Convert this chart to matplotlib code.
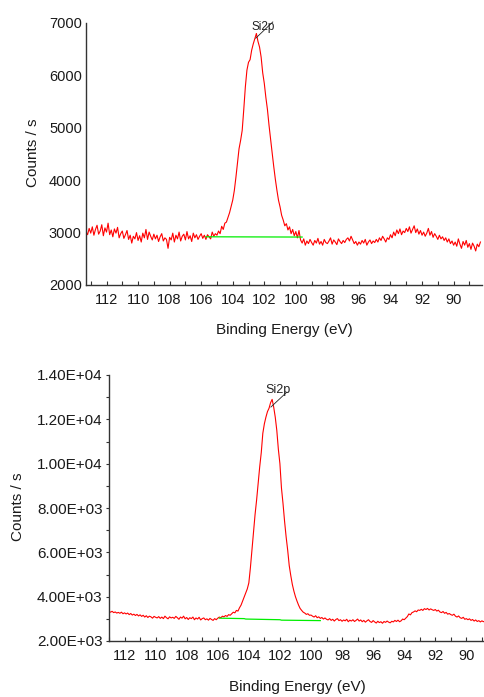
import numpy as np
import matplotlib
matplotlib.use("Agg")
import matplotlib.pyplot as plt
from matplotlib.ticker import MultipleLocator, FuncFormatter

plt.rcParams['font.family'] = ['Liberation Sans', 'DejaVu Sans']

# ---------------- data ----------------
# Top spectrum: binding energy grid 113.3 -> 88.3 eV, step 0.1 eV
top_be_start, top_be_step = 113.3, 0.1
top_counts = [
    3020, 2960, 3080, 2990,
    3110, 2950, 3060, 3140, 2970, 3030, 3150, 2940, 3090, 3010,
    3180, 2960, 3050, 2920, 3070, 2990, 3100, 2900, 2980, 3030,
    2890, 2960, 3040, 2870, 2950, 2800, 2930, 2880, 3000, 2850,
    2940, 2820, 2990, 2900, 3060, 2870, 3010, 2930, 2860, 2970,
    2880, 2950, 2830, 2920, 2980, 2840, 2900, 2870, 2700, 2910,
    2860, 2990, 2820, 2950, 2880, 3010, 2840, 2930, 2970, 2860,
    3020, 2880, 2940, 2830, 2990, 2900, 2960, 2870, 2930, 2980,
    2890, 2950, 2870, 2960, 2920, 2880, 3010, 2930, 2980, 2950,
    3030, 2980, 3120, 3060, 3180, 3200, 3290, 3380, 3500, 3620,
    3800, 4050, 4330, 4600, 4760, 4950, 5350, 5780, 6100, 6250,
    6300, 6480, 6600, 6700, 6800, 6650, 6540, 6350, 6050, 5850,
    5580, 5350, 5050, 4780, 4520, 4260, 4020, 3810, 3620, 3490,
    3330, 3240, 3130, 3170, 3050, 3110, 2980, 3060, 2940, 3020,
    2900, 3040, 2860, 2800, 2880, 2760, 2840, 2790, 2870, 2810,
    2760, 2850, 2800, 2890, 2780, 2830, 2760, 2870, 2810, 2790,
    2840, 2900, 2780, 2860, 2820, 2770, 2880, 2830, 2790, 2850,
    2810, 2870, 2900, 2840, 2930, 2860, 2790, 2830, 2760, 2820,
    2780, 2850, 2800, 2870, 2760, 2820, 2860, 2790, 2840, 2810,
    2870, 2820, 2900, 2850, 2930, 2880, 2820, 2900, 2870, 2960,
    2900, 3010, 2940, 3050, 2980, 3070, 2960, 3030, 3000, 3080,
    3020, 3110, 2990, 3060, 3130, 3000, 3070, 2970, 3040, 2950,
    3010, 2930, 2990, 3080, 2950, 3020, 2910, 2980, 2930, 2870,
    2950, 2880, 2920, 2850, 2900, 2820, 2880, 2790, 2840, 2760,
    2820, 2740, 2880, 2780, 2700, 2830, 2760, 2850, 2720, 2790,
    2680, 2800, 2740, 2650, 2780, 2730, 2820,
]
top_bg_x = [105.7, 99.6]
top_bg_y = [2920, 2915]
top_peak = (102.54, 6710)
top_label_end = (101.46, 7020)
top_label_pos = (102.05, 6920)

# Bottom spectrum: binding energy grid 113.0 -> 88.8 eV, step 0.1 eV
bot_be_start, bot_be_step = 113.0, 0.1
bot_counts = [
    3330,
    3300, 3340, 3280, 3310, 3260, 3290, 3250, 3300, 3230, 3270,
    3220, 3260, 3190, 3240, 3170, 3210, 3150, 3200, 3130, 3180,
    3110, 3160, 3080, 3140, 3060, 3120, 3090, 3030, 3110, 3070,
    3040, 3100, 3020, 3080, 3010, 3120, 3050, 3000, 3090, 3040,
    3070, 3020, 3110, 3050, 2980, 3080, 3030, 3120, 3000, 3060,
    2970, 3050, 3010, 3080, 2960, 3040, 2990, 3070, 2950, 3010,
    3040, 2960, 3000, 2940, 3020, 2970, 2930, 3010, 2960, 3030,
    3080, 3050, 3120, 3090, 3150, 3110, 3190, 3160, 3230, 3300,
    3270, 3380, 3350, 3500, 3620, 3800, 3990, 4150, 4350, 4620,
    5300, 6100, 6900, 7700, 8360, 9100, 9860, 10500, 11370, 11800,
    12100, 12350, 12500, 12750, 12900, 12550, 12100, 11500, 10650, 10000,
    8900, 8200, 7400, 6700, 6100, 5400, 4950, 4550, 4250, 4000,
    3800, 3620, 3470, 3380, 3300, 3260, 3200, 3230, 3160, 3170,
    3120, 3080, 3140, 3050, 3090, 3020, 3060, 2990, 3040, 2980,
    2950, 3010, 2930, 2980, 2900, 2970, 3010, 2920, 2960, 2890,
    2950, 2910, 2980, 2870, 2940, 2900, 2960, 2880, 2930, 2990,
    2900, 2950, 2870, 2930, 2850, 2910, 2960, 2880, 2840, 2920,
    2860, 2810, 2890, 2830, 2870, 2800, 2880, 2840, 2900, 2850,
    2820, 2890, 2860, 2930, 2880, 2940, 2870, 2910, 2990, 2960,
    3030, 3100, 3220, 3180, 3280, 3310, 3360, 3320, 3400, 3380,
    3430, 3380, 3460, 3420, 3470, 3400, 3450, 3410, 3380, 3420,
    3350, 3390, 3310, 3280, 3330, 3250, 3290, 3210, 3240, 3190,
    3160, 3210, 3120, 3080, 3130, 3050, 3020, 3070, 2980, 3010,
    2960, 3000, 2930, 2970, 2900, 2950, 2880, 2920, 2860, 2910,
    2870, 2900,
]
bot_bg_x = [105.9, 104.3, 104.2, 102.0, 101.9, 99.4]
bot_bg_y = [3030, 3010, 2990, 2960, 2940, 2920]
bot_peak = (102.58, 12555)
bot_label_end = (101.55, 13230)
bot_label_pos = (102.15, 13320)

peak_label = "Si2p"
xlabel = "Binding Energy (eV)"
ylabel = "Counts / s"

# ---------------- figure ----------------
W, H = 485, 697
fig = plt.figure(figsize=(W / 100, H / 100), dpi=100)

txt = '#1a1a1a'
spine_c = '#333333'

def px_axes(l, t, r, b):
    return fig.add_axes([l / W, 1 - b / H, (r - l) / W, (b - t) / H])

def style(ax):
    for s in ('top', 'right'):
        ax.spines[s].set_visible(False)
    for s in ('left', 'bottom'):
        ax.spines[s].set_color(spine_c)
        ax.spines[s].set_linewidth(1.0)
    ax.xaxis.set_major_locator(MultipleLocator(2))
    ax.xaxis.set_minor_locator(MultipleLocator(1))
    ax.tick_params(axis='x', which='both', direction='in', length=3, width=0.8,
                   color=spine_c, labelsize=10.5, labelcolor=txt, pad=6)
    ax.xaxis.set_major_formatter(FuncFormatter(lambda v, p: f"{v:.0f}"))

# ---- top panel ----
ax1 = px_axes(86, 23, 482, 285)
n1 = len(top_counts)
be1 = top_be_start - top_be_step * np.arange(n1)
ax1.plot(be1, top_counts, color='#ff0000', lw=0.8)
ax1.plot(top_bg_x, top_bg_y, color='#00ee00', lw=0.9)
ax1.set_xlim(113.3, 88.2)
ax1.set_ylim(2000, 7000)
style(ax1)
ax1.yaxis.set_major_locator(MultipleLocator(1000))
ax1.tick_params(axis='y', which='both', length=0, labelsize=10.5, labelcolor=txt, pad=3)
ax1.set_xlabel(xlabel, fontsize=11, color=txt)
ax1.set_ylabel(ylabel, fontsize=11, color=txt)
ax1.xaxis.set_label_coords(0.5, -0.145)
ax1.yaxis.set_label_coords(-0.116, 0.504)
ax1.plot([top_peak[0], top_label_end[0]], [top_peak[1], top_label_end[1]],
         color='#222222', lw=0.6, clip_on=False)
ax1.text(*top_label_pos, peak_label, fontsize=8.5, color='#222222', ha='center',
         va='center', clip_on=False)

# ---- bottom panel ----
ax2 = px_axes(109, 375, 485, 641)
n2 = len(bot_counts)
be2 = bot_be_start - bot_be_step * np.arange(n2)
ax2.plot(be2, bot_counts, color='#ff0000', lw=0.8)
ax2.plot(bot_bg_x, bot_bg_y, color='#00ee00', lw=0.9)
ax2.set_xlim(113.0, 88.8)
ax2.set_ylim(2000, 14000)
style(ax2)
ax2.yaxis.set_major_locator(MultipleLocator(2000))
ax2.yaxis.set_minor_locator(MultipleLocator(1000))
ax2.yaxis.set_major_formatter(FuncFormatter(lambda v, p: f"{v:.2E}"))
ax2.tick_params(axis='y', which='both', direction='out', length=2.5, width=0.8,
                color=spine_c, labelsize=11, labelcolor=txt, pad=2)
ax2.set_xlabel(xlabel, fontsize=11, color=txt)
ax2.set_ylabel(ylabel, fontsize=11, color=txt)
ax2.xaxis.set_label_coords(0.5, -0.147)
ax2.yaxis.set_label_coords(-0.223, 0.504)
ax2.plot([bot_peak[0], bot_label_end[0]], [bot_peak[1], bot_label_end[1]],
         color='#222222', lw=0.6, clip_on=False)
ax2.text(*bot_label_pos, peak_label, fontsize=9, color='#222222', ha='center',
         va='center', clip_on=False)

fig.savefig('out.png', dpi=100)
